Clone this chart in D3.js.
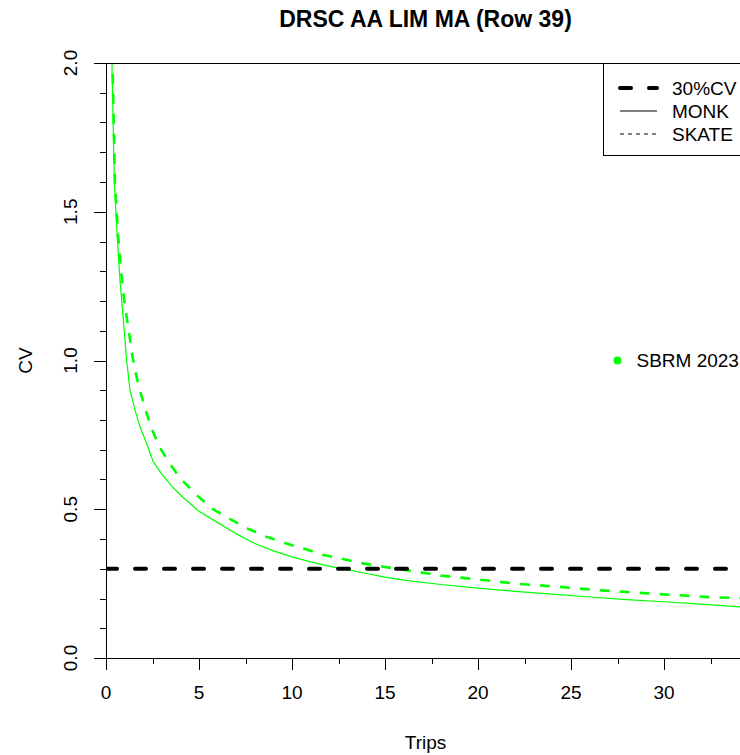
<!DOCTYPE html>
<html>
<head>
    <meta charset="utf-8">
    <title>DRSC AA LIM MA (Row 39)</title>
    <script type="text/javascript" src="https://cdn.jsdelivr.net/npm/d3@7/dist/d3.min.js"></script>
    <style>
        body { margin: 0; background: #fff; }
        text { font-family: "Liberation Sans", Arial, sans-serif; fill: #000; }
    </style>
</head>

<body>

<script type="text/javascript">
    // values
    var monkTrips = [0.25, 0.32, 0.45, 0.6, 0.75, 0.93, 1.11, 1.29, 1.56, 1.83, 2.19, 2.54, 3.0, 3.5, 4.0, 5.0, 6.0, 7.0, 8.0, 9.0, 10, 11, 12, 13, 14, 15, 16, 18, 20, 22, 24, 26, 28, 30, 32, 34.5];
    var monkCV = [2.3, 2.0, 1.6, 1.42, 1.27, 1.14, 1.0, 0.9, 0.833, 0.777, 0.72, 0.66, 0.618, 0.58, 0.548, 0.493, 0.455, 0.418, 0.385, 0.36, 0.34, 0.323, 0.309, 0.296, 0.284, 0.272, 0.262, 0.247, 0.235, 0.224, 0.215, 0.205, 0.196, 0.189, 0.181, 0.170];

    var skateTrips = [0.28, 0.35, 0.48, 0.65, 0.8, 0.93, 1.08, 1.25, 1.38, 1.56, 1.79, 2.1, 2.45, 2.87, 3.39, 3.98, 4.87, 5.68, 6.67, 7.65, 8.6, 9.7, 10.7, 11.7, 12.8, 13.8, 14.9, 17.0, 18.0, 20.0, 22.2, 24.2, 26.3, 28.4, 30.5, 32.6, 34.5];
    var skateCV = [2.3, 2.0, 1.6, 1.42, 1.31, 1.226, 1.159, 1.09, 1.03, 0.968, 0.907, 0.839, 0.772, 0.71, 0.657, 0.605, 0.548, 0.503, 0.467, 0.434, 0.408, 0.385, 0.366, 0.346, 0.332, 0.318, 0.307, 0.287, 0.277, 0.264, 0.249, 0.240, 0.229, 0.22, 0.212, 0.204, 0.201];

    var targetCV = 0.3;
    var sbrm = {trips: 27.5, cv: 1.0, label: "SBRM 2023"};

    var xMajor = [0, 5, 10, 15, 20, 25, 30];
    var xMinor = [2.5, 7.5, 12.5, 17.5, 22.5, 27.5, 32.5];
    var yMajor = [0, 0.5, 1.0, 1.5, 2.0];
    var yMinor = [0.1, 0.2, 0.3, 0.4, 0.6, 0.7, 0.8, 0.9, 1.1, 1.2, 1.3, 1.4, 1.6, 1.7, 1.8, 1.9];

    var legendNames = ["30%CV", "MONK", "SKATE"];

    var width = 740,
            height = 755,
            pLeft = 106, pTop = 63, pBottom = 658, pRight = 745,
            fs = 19;

    var x = d3.scaleLinear().domain([0, (pRight - pLeft) / 18.6]).range([pLeft, pRight]);
    var y = d3.scaleLinear().domain([0, 2]).range([pBottom, pTop]);

    var svg = d3.select("body").append("svg")
            .attr("width", width)
            .attr("height", height);

    svg.append("defs").append("clipPath").attr("id", "plotclip")
            .append("rect")
            .attr("x", pLeft).attr("y", pTop)
            .attr("width", pRight - pLeft).attr("height", pBottom - pTop);

    var line = d3.line()
            .x(function (d) { return x(d[0]); })
            .y(function (d) { return y(d[1]); });

    var plot = svg.append("g").attr("clip-path", "url(#plotclip)");

    plot.append("path")
            .datum(monkTrips.map(function (t, i) { return [t, monkCV[i]]; }))
            .attr("fill", "none")
            .attr("stroke", "#00ff00")
            .attr("stroke-width", 1.2)
            .attr("d", line);

    plot.append("path")
            .datum(skateTrips.map(function (t, i) { return [t, skateCV[i]]; }))
            .attr("fill", "none")
            .attr("stroke", "#00ff00")
            .attr("stroke-width", 2.6)
            .attr("stroke-dasharray", "10,10")
            .attr("d", line);

    plot.append("line")
            .attr("x1", x(0)).attr("x2", pRight)
            .attr("y1", y(targetCV)).attr("y2", y(targetCV))
            .attr("stroke", "#000")
            .attr("stroke-width", 4)
            .attr("stroke-linecap", "round")
            .attr("stroke-dasharray", "11,18");

    svg.append("circle")
            .attr("cx", x(sbrm.trips)).attr("cy", y(sbrm.cv))
            .attr("r", 4)
            .attr("fill", "#00ff00");

    svg.append("text")
            .attr("x", x(sbrm.trips) + 19).attr("y", y(sbrm.cv))
            .attr("dy", "0.35em")
            .attr("font-size", fs)
            .text(sbrm.label);

    // box
    svg.append("rect")
            .attr("x", pLeft + 0.5).attr("y", pTop + 0.5)
            .attr("width", pRight - pLeft).attr("height", pBottom - pTop)
            .attr("fill", "none")
            .attr("stroke", "#000")
            .attr("stroke-width", 1);

    // x ticks
    svg.selectAll("line.xmaj").data(xMajor).enter().append("line")
            .attr("class", "xmaj")
            .attr("x1", function (d) { return Math.round(x(d)) + 0.5; })
            .attr("x2", function (d) { return Math.round(x(d)) + 0.5; })
            .attr("y1", pBottom).attr("y2", pBottom + 12)
            .attr("stroke", "#000");
    svg.selectAll("line.xmin").data(xMinor).enter().append("line")
            .attr("class", "xmin")
            .attr("x1", function (d) { return Math.round(x(d)) + 0.5; })
            .attr("x2", function (d) { return Math.round(x(d)) + 0.5; })
            .attr("y1", pBottom).attr("y2", pBottom + 6)
            .attr("stroke", "#000");
    svg.selectAll("text.xlab").data(xMajor).enter().append("text")
            .attr("class", "xlab")
            .attr("x", function (d) { return x(d); })
            .attr("y", 699)
            .attr("text-anchor", "middle")
            .attr("font-size", fs)
            .text(function (d) { return d; });

    // y ticks
    svg.selectAll("line.ymaj").data(yMajor).enter().append("line")
            .attr("class", "ymaj")
            .attr("x1", pLeft - 12).attr("x2", pLeft)
            .attr("y1", function (d) { return Math.round(y(d)) + 0.5; })
            .attr("y2", function (d) { return Math.round(y(d)) + 0.5; })
            .attr("stroke", "#000");
    svg.selectAll("line.ymin").data(yMinor).enter().append("line")
            .attr("class", "ymin")
            .attr("x1", pLeft - 6).attr("x2", pLeft)
            .attr("y1", function (d) { return Math.round(y(d)) + 0.5; })
            .attr("y2", function (d) { return Math.round(y(d)) + 0.5; })
            .attr("stroke", "#000");
    svg.selectAll("text.ylab").data(yMajor).enter().append("text")
            .attr("class", "ylab")
            .attr("transform", function (d) { return "translate(77," + y(d) + ") rotate(-90)"; })
            .attr("text-anchor", "middle")
            .attr("font-size", fs)
            .text(function (d) { return d3.format(".1f")(d); });

    // titles
    svg.append("text")
            .attr("x", (pLeft + pRight) / 2).attr("y", 27)
            .attr("text-anchor", "middle")
            .attr("font-size", 23)
            .attr("font-weight", "bold")
            .text("DRSC AA LIM MA (Row 39)");
    svg.append("text")
            .attr("x", (pLeft + pRight) / 2).attr("y", 749)
            .attr("text-anchor", "middle")
            .attr("font-size", fs)
            .text("Trips");
    svg.append("text")
            .attr("transform", "translate(32," + (pTop + pBottom) / 2 + ") rotate(-90)")
            .attr("text-anchor", "middle")
            .attr("font-size", fs)
            .text("CV");

    // legend
    var lg = svg.append("g");
    lg.append("rect")
            .attr("x", 603.5).attr("y", pTop + 0.5)
            .attr("width", 150).attr("height", 92)
            .attr("fill", "#fff")
            .attr("stroke", "#000");
    var legStyles = [
        {w: 4, dash: "11,18", cap: "round"},
        {w: 1, dash: null, cap: "butt"},
        {w: 1, dash: "4,4", cap: "butt"}
    ];
    legendNames.forEach(function (name, i) {
        var ly = 88 + i * 23;
        lg.append("line")
                .attr("x1", 620).attr("x2", 657)
                .attr("y1", ly).attr("y2", ly)
                .attr("stroke", "#000")
                .attr("stroke-width", legStyles[i].w)
                .attr("stroke-linecap", legStyles[i].cap)
                .attr("stroke-dasharray", legStyles[i].dash);
        lg.append("text")
                .attr("x", 672).attr("y", ly)
                .attr("dy", "0.35em")
                .attr("font-size", fs)
                .text(name);
    });
</script>

</body>

</html>
